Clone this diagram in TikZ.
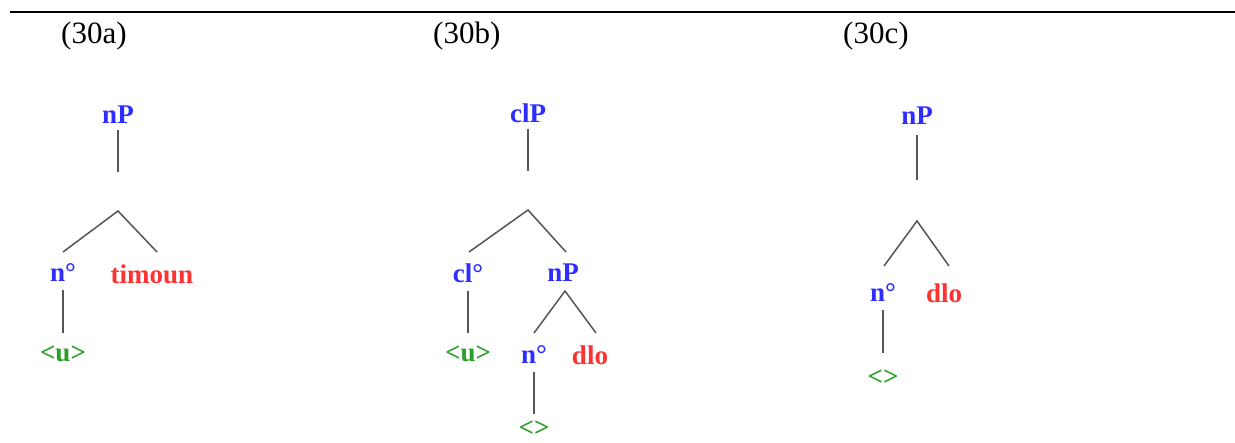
\documentclass[tikz,border=0pt]{standalone}
\usepackage{fontspec}
\setmainfont{Liberation Serif}
\definecolor{catblue}{RGB}{45,45,255}
\definecolor{lexred}{RGB}{255,50,50}
\definecolor{phongreen}{RGB}{40,160,40}
\definecolor{branch}{RGB}{85,85,85}
\tikzset{
  cat/.style={text=catblue, inner sep=0pt, font=\bfseries\fontsize{27}{27}\selectfont},
  lex/.style={text=lexred, inner sep=0pt, font=\bfseries\fontsize{27}{27}\selectfont},
  phon/.style={text=phongreen, inner sep=0pt, font=\bfseries\fontsize{27}{27}\selectfont},
  heading/.style={anchor=west, inner sep=0pt, font=\fontsize{31}{31}\selectfont},
  edge/.style={draw=branch, line width=1.5pt},
}
\begin{document}
\begin{tikzpicture}[x=1pt, y=-1pt]
\useasboundingbox (0,0) rectangle (1235,443);
\fill[white] (0,0) rectangle (1235,443);
% rule above the examples
\coordinate (ruleL) at (10,12);
\coordinate (ruleR) at (1235,12);
\draw[line width=2.2pt] (ruleL) -- (ruleR);

\node[heading] (ha) at (61,36) {(30a)};
\node[heading] (hb) at (433,36) {(30b)};
\node[heading] (hc) at (843,36) {(30c)};

% ---- (30a)
\node[cat] (a-nP) at (118,115) {nP};
\coordinate (a-stem) at (118,172);
\coordinate (a-fork) at (118,211);
\coordinate (a-l) at (63,252);
\coordinate (a-r) at (157,252);
\node[cat] (a-n) at (63,273) {n°};
\node[lex] (a-lex) at (152,274) {timoun};
\node[phon] (a-u) at (63,354) {<u>};
\draw[edge, shorten <=6pt] (a-nP) -- (a-stem);
\draw[edge] (a-l) -- (a-fork) -- (a-r);
\draw[edge, shorten <=8pt, shorten >=13pt] (a-n) -- (a-u);

% ---- (30b)
\node[cat] (b-clP) at (528,113) {clP};
\coordinate (b-stem) at (528,171);
\coordinate (b-fork) at (528,210);
\coordinate (b-l) at (469,252);
\coordinate (b-r) at (566,252);
\node[cat] (b-cl) at (468,273) {cl°};
\node[cat] (b-nP) at (563,273) {nP};
\node[phon] (b-u) at (468,354) {<u>};
\coordinate (b-fork2) at (565,291);
\coordinate (b-l2) at (534,333);
\coordinate (b-r2) at (596,333);
\node[cat] (b-n) at (534,355) {n°};
\node[lex] (b-lex) at (590,355) {dlo};
\node[phon] (b-e) at (534,429) {<>};
\draw[edge, shorten <=8pt, shorten >=7pt] (b-n) -- (b-e);
\draw[edge, shorten <=6pt] (b-clP) -- (b-stem);
\draw[edge] (b-l) -- (b-fork) -- (b-r);
\draw[edge] (b-l2) -- (b-fork2) -- (b-r2);
\draw[edge, shorten <=8pt, shorten >=13pt] (b-cl) -- (b-u);

% ---- (30c)
\node[cat] (c-nP) at (917,116) {nP};
\coordinate (c-stem) at (917,180);
\coordinate (c-fork) at (917,221);
\coordinate (c-l) at (884,266);
\coordinate (c-r) at (949,266);
\node[cat] (c-n) at (883,293) {n°};
\node[lex] (c-lex) at (944,293) {dlo};
\node[phon] (c-e) at (883,378) {<>};
\draw[edge, shorten <=10pt] (c-nP) -- (c-stem);
\draw[edge] (c-l) -- (c-fork) -- (c-r);
\draw[edge, shorten <=8pt, shorten >=17pt] (c-n) -- (c-e);
\end{tikzpicture}
\end{document}
